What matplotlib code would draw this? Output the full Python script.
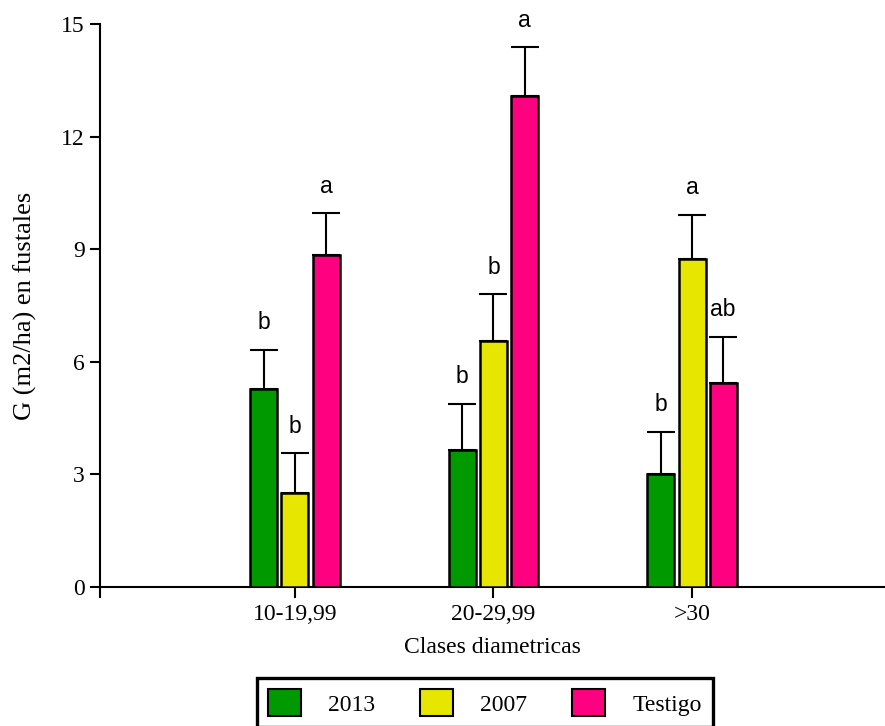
import numpy as np
import matplotlib
matplotlib.use('Agg')
import matplotlib.pyplot as plt
from matplotlib.patches import Patch

# basal area per diameter class
clases = ['10-19,99', '20-29,99', '>30']
series = ['2013', '2007', 'Testigo']
g_2013 = [5.27, 3.65, 3.00]
g_2007 = [2.51, 6.56, 8.73]
g_testigo = [8.84, 13.08, 5.44]
err_2013 = [1.05, 1.23, 1.14]
err_2007 = [1.05, 1.24, 1.18]
err_testigo = [1.12, 1.30, 1.23]
letras_2013 = ['b', 'b', 'b']
letras_2007 = ['b', 'b', 'a']
letras_testigo = ['a', 'a', 'ab']

colores = ['#009a00', '#e6e600', '#ff0080']
serif = 'Liberation Serif'
sans = 'Liberation Sans'

fig = plt.figure(figsize=(8.85, 7.26), dpi=100)
ax = fig.add_axes([100/885, 1 - 587/726, 785/885, 563/726])

x = np.arange(len(clases))
ancho = 0.136
paso = 0.157
valores = [g_2013, g_2007, g_testigo]
errores = [err_2013, err_2007, err_testigo]
letras = [letras_2013, letras_2007, letras_testigo]

for i, (v, e, l, c) in enumerate(zip(valores, errores, letras, colores)):
    xi = x + (i - 1) * paso
    v = np.array(v)
    e = np.array(e)
    ax.errorbar(xi, v, yerr=[np.zeros_like(e), e], fmt='none', ecolor='black',
                elinewidth=1.5, capsize=10, capthick=1.5, zorder=2)
    ax.bar(xi, v, width=ancho, color=c, edgecolor='black', linewidth=1.8, zorder=3)
    for xx, top, lab in zip(xi, v + e, l):
        ax.text(xx, top + 0.55, lab, ha='center', va='baseline',
                fontsize=16.5, family=sans)

ax.set_ylim(0, 15)
ax.set_xlim(-0.982, 2.972)
ax.set_yticks([0, 3, 6, 9, 12, 15])
ax.set_xticks(x)
ax.set_xticklabels(clases)
ax.set_xticks([-0.982], minor=True)

for s in ['top', 'right']:
    ax.spines[s].set_visible(False)
for s in ['left', 'bottom']:
    ax.spines[s].set_linewidth(1.5)

ax.tick_params(axis='y', length=7.5, width=1.5, pad=3.5, labelsize=17)
ax.tick_params(axis='x', which='both', length=8, width=1.5, pad=4, labelsize=17)
for t in ax.get_xticklabels() + ax.get_yticklabels():
    t.set_family(serif)

ax.set_ylabel('G (m2/ha) en fustales', fontsize=19, family=serif, labelpad=17)
ax.set_xlabel('Clases diametricas', fontsize=17, family=serif, labelpad=9)

handles = [Patch(facecolor=c, edgecolor='black', linewidth=1.5) for c in colores]
leg = fig.legend(handles, series, loc='upper left',
                 bbox_to_anchor=(257/885, 1 - 678/726), ncol=3,
                 prop={'family': serif, 'size': 17}, frameon=True, fancybox=False,
                 framealpha=1, borderpad=0.47, handlelength=1.4, handleheight=1.4,
                 handletextpad=1.15, columnspacing=1.9, borderaxespad=0)
leg.get_frame().set_edgecolor('black')
leg.get_frame().set_linewidth(2.4)

fig.savefig('out.png', dpi=100)
